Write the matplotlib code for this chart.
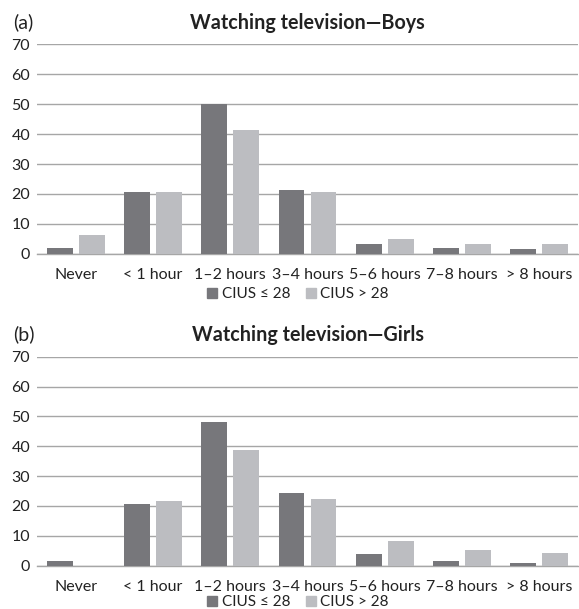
import matplotlib
matplotlib.use("Agg")
import matplotlib.pyplot as plt
import numpy as np
from matplotlib.patches import Patch

categories = ["Never", "< 1 hour", "1\u20132 hours", "3\u20134 hours", "5\u20136 hours", "7\u20138 hours", "> 8 hours"]
boys_low = [1.9, 20.5, 50.1, 21.2, 3.2, 2.0, 1.7]
boys_high = [6.4, 20.7, 41.4, 20.7, 5.0, 3.2, 3.2]
girls_low = [1.5, 20.5, 48.1, 24.2, 3.9, 1.5, 0.8]
girls_high = [0.0, 21.6, 38.9, 22.4, 8.3, 5.2, 4.1]
series_labels = ["CIUS \u2264 28", "CIUS > 28"]
titles = ["Watching television\u2014Boys", "Watching television\u2014Girls"]
panel_tags = ["(a)", "(b)"]
yticks = [0, 10, 20, 30, 40, 50, 60, 70]

plt.rcParams['font.family'] = ['Lato', 'DejaVu Sans']
dark = "#77777b"
light = "#bcbdc1"
grid_c = "#a6a6a6"

fig = plt.figure(figsize=(5.79, 6.09), dpi=100)
W, H = 579, 609
panels = [
    (boys_low, boys_high, 44, 254, 294),
    (girls_low, girls_high, 356.7, 565.7, 602),
]
x = np.arange(len(categories))
bw = 0.336
gap = 0.078
for i, (low, high, ytop, ybot, yleg) in enumerate(panels):
    ax = fig.add_axes([37 / W, 1 - ybot / H, (578 - 37) / W, (ybot - ytop) / H])
    ax.bar(x - (bw + gap) / 2, low, bw, color=dark, label=series_labels[0], zorder=3)
    ax.bar(x + (bw + gap) / 2, high, bw, color=light, label=series_labels[1], zorder=3)
    ax.set_xlim(-0.5, len(categories) - 0.5)
    ax.set_ylim(0, 70)
    ax.set_yticks(yticks)
    ax.set_xticks(x)
    ax.set_xticklabels(categories)
    ax.grid(axis='y', color=grid_c, linewidth=1.0, zorder=0)
    for s in ["top", "right", "left"]:
        ax.spines[s].set_visible(False)
    ax.spines["bottom"].set_color(grid_c)
    ax.spines["bottom"].set_linewidth(1.0)
    ax.tick_params(axis='both', length=0, labelsize=11.5, colors="#222222")
    ax.tick_params(axis='y', pad=5)
    ax.tick_params(axis='x', pad=10)
    ax.set_title(titles[i], fontsize=14.2, fontweight='bold', color="#222222", pad=11)
    fig.text(13 / W, 1 - (ytop - 22) / H, panel_tags[i], fontsize=14, color="#222222", va='center', ha='left')
    handles = [Patch(color=dark), Patch(color=light)]
    fig.legend(handles, series_labels, loc='center', bbox_to_anchor=(298 / W, 1 - yleg / H), ncol=2,
               frameon=False, fontsize=11, handlelength=0.65, handleheight=0.65, handletextpad=0.3,
               columnspacing=1.0, borderpad=0, labelcolor="#222222")

fig.savefig("out.png", dpi=100, facecolor="white")
